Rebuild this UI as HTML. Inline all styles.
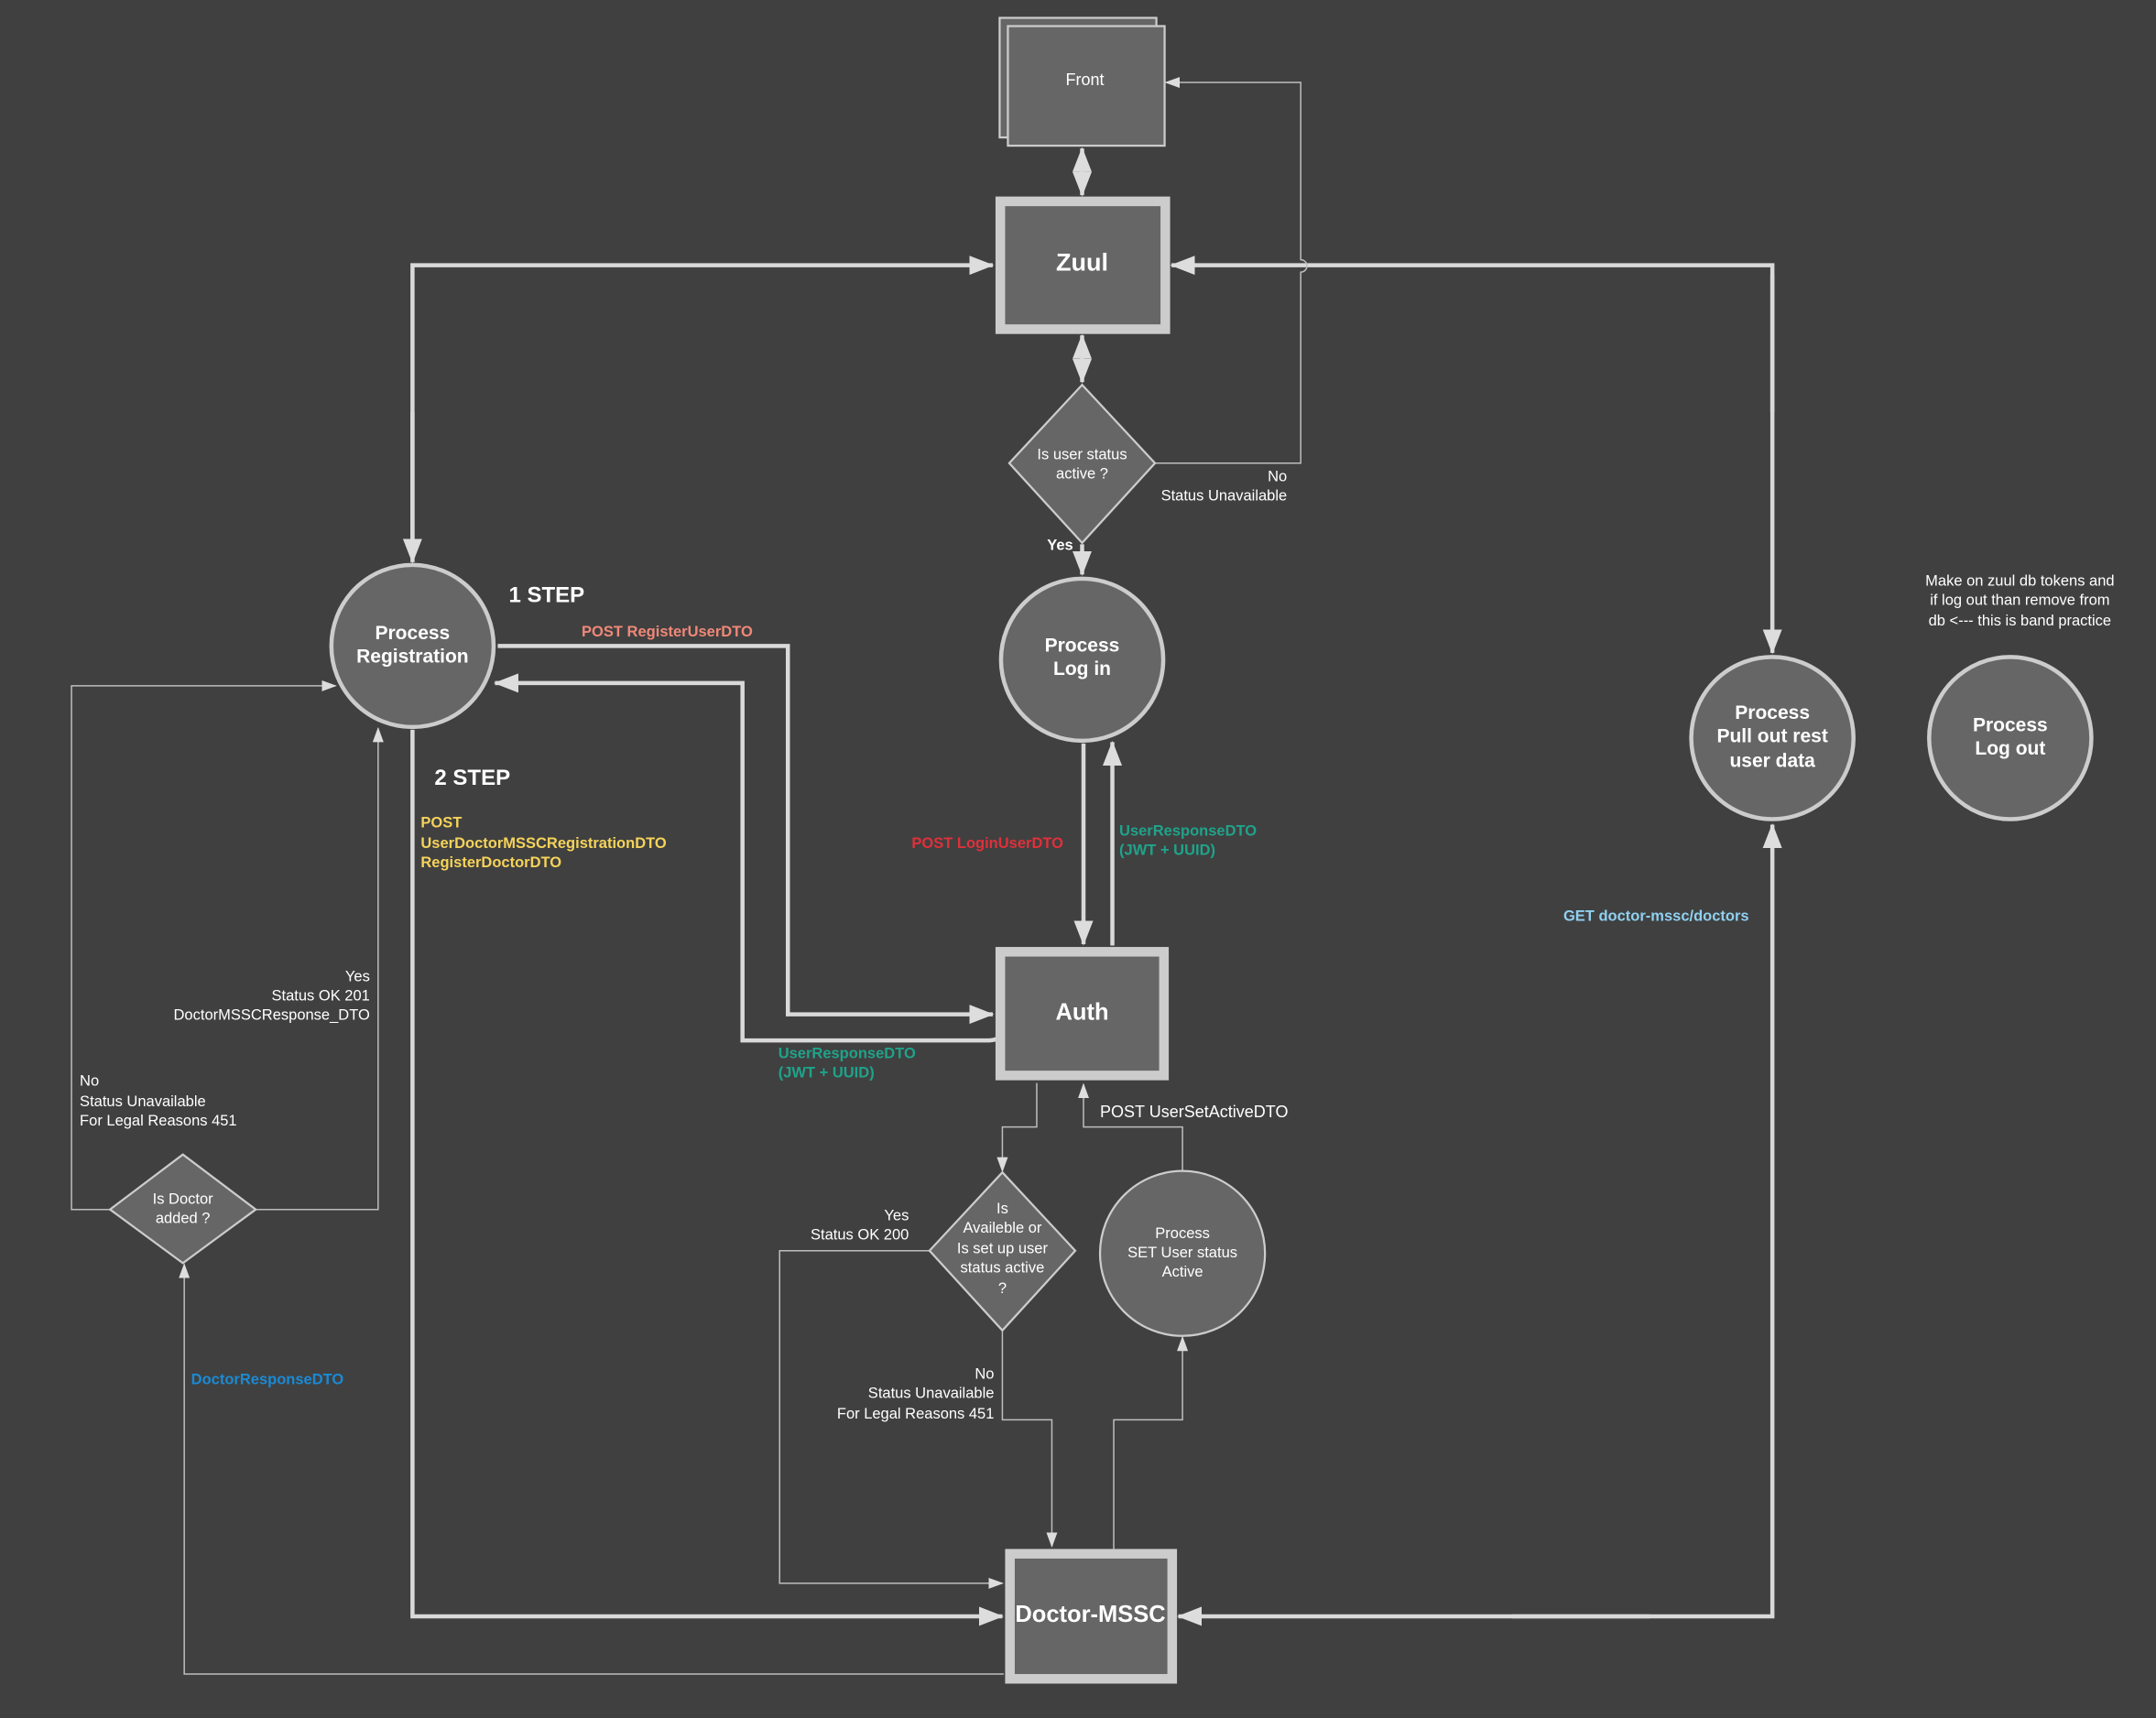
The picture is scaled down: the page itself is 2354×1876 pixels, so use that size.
<!DOCTYPE html>
<html><head><meta charset="utf-8"><style>
html,body{margin:0;padding:0;background:#404040;}
svg{display:block;}
text{font-family:"Liberation Sans",sans-serif;fill:#fff;}
</style></head><body>
<svg width="2354" height="1876" viewBox="0 0 1568 1250" preserveAspectRatio="none" xmlns="http://www.w3.org/2000/svg">
<defs>
<marker id="T" markerUnits="userSpaceOnUse" markerWidth="18" markerHeight="14" refX="17" refY="7" orient="auto"><path d="M0,0 L18,7 L0,14 Z" fill="#ddd"/></marker>
<marker id="t" markerUnits="userSpaceOnUse" markerWidth="11" markerHeight="8" refX="10" refY="4" orient="auto"><path d="M0,0 L11,4 L0,8 Z" fill="#ddd"/></marker>
</defs>
<rect width="1568" height="1250" fill="#404040"/>

<g fill="none" stroke="#d9d9d9" stroke-width="3">
<!-- Front-Zuul -->
<path d="M787,126 L787,108" marker-end="url(#T)"/>
<path d="M787,124 L787,142" marker-end="url(#T)"/>
<!-- Zuul-diamond -->
<path d="M787,262 L787,244" marker-end="url(#T)"/>
<path d="M787,260 L787,278" marker-end="url(#T)"/>
<!-- Yes -->
<path d="M787,396 L787,418" marker-end="url(#T)"/>
<!-- registration <-> zuul -->
<path d="M300,400 L300,193 L722,193" marker-end="url(#T)"/>
<path d="M300,300 L300,409" marker-end="url(#T)"/>
<!-- zuul right to pull out -->
<path d="M1289,300 L1289,193 L852,193" marker-end="url(#T)"/>
<path d="M1289,200 L1289,475" marker-end="url(#T)"/>
<!-- register to auth -->
<path d="M362,470 L573,470 L573,738 L722,738" marker-end="url(#T)"/>
<!-- auth to register -->
<path d="M726,755 Q724,757 718,757 L540,757 L540,497 L360,497" marker-end="url(#T)"/>
<!-- login -->
<path d="M788,541 L788,687" marker-end="url(#T)"/>
<path d="M809,688 L809,540" marker-end="url(#T)"/>
<!-- registration to doctor -->
<path d="M300,531 L300,1176 L729,1176" marker-end="url(#T)"/>
<!-- doctor to pull out -->
<path d="M1100,1176 L1289,1176 L1289,600" marker-end="url(#T)"/>
<path d="M1200,1176 L857,1176" marker-end="url(#T)"/>
</g>

<g fill="none" stroke="#bdbdbd" stroke-width="1">
<path d="M840,337 L946,337 L946,198 A4,4 0 0 0 946,189 L946,60 L848,60" marker-end="url(#t)"/>
<path d="M754,788 L754,820 L729,820 L729,852" marker-end="url(#t)"/>
<path d="M676,910 L567,910 L567,1152 L729,1152" marker-end="url(#t)"/>
<path d="M729,968 L729,1033 L765,1033 L765,1125" marker-end="url(#t)"/>
<path d="M810,1127 L810,1033 L860,1033 L860,973" marker-end="url(#t)"/>
<path d="M860,852 L860,820 L788,820 L788,789" marker-end="url(#t)"/>
<path d="M730,1218 L134,1218 L134,920" marker-end="url(#t)"/>
<path d="M186,880 L275,880 L275,530" marker-end="url(#t)"/>
<path d="M80,880 L52,880 L52,499 L244,499" marker-end="url(#t)"/>
</g>

<!-- Front -->
<rect x="727" y="13" width="114" height="87" fill="#666" stroke="#ccc" stroke-width="1.5"/>
<rect x="733" y="19" width="114" height="87" fill="#666" stroke="#ccc" stroke-width="1.5"/>
<text x="789" y="62" font-size="12" text-anchor="middle">Front</text>

<!-- Zuul -->
<rect x="727.5" y="146.5" width="120" height="93" fill="#666" stroke="#ccc" stroke-width="7"/>
<text x="787" y="197" font-size="18" font-weight="bold" text-anchor="middle">Zuul</text>

<!-- diamond 1 -->
<path d="M787,280 L840,337 L787,395 L734,337 Z" fill="#666" stroke="#ccc" stroke-width="1.5"/>
<text x="787" y="334" font-size="11" text-anchor="middle">Is user status</text>
<text x="787" y="348" font-size="11" text-anchor="middle">active ?</text>
<text x="936" y="350" font-size="11" text-anchor="end">No</text>
<text x="936" y="364" font-size="11" text-anchor="end">Status Unavailable</text>
<text x="771" y="400" font-size="11" font-weight="bold" text-anchor="middle">Yes</text>

<!-- circles -->
<g fill="#666" stroke="#ccc" stroke-width="3">
<circle cx="300" cy="470" r="59"/>
<circle cx="787" cy="480" r="59"/>
<circle cx="1289" cy="537" r="59"/>
<circle cx="1462" cy="537" r="59"/>
</g>
<circle cx="860" cy="912" r="60" fill="#666" stroke="#ccc" stroke-width="1.5"/>
<g font-size="14" font-weight="bold" text-anchor="middle">
<text x="300" y="465">Process</text><text x="300" y="482">Registration</text>
<text x="787" y="474">Process</text><text x="787" y="491">Log in</text>
<text x="1289" y="523">Process</text><text x="1289" y="540">Pull out rest</text><text x="1289" y="558">user data</text>
<text x="1462" y="532">Process</text><text x="1462" y="549">Log out</text>
</g>
<g font-size="11" text-anchor="middle">
<text x="860" y="901">Process</text><text x="860" y="915">SET User status</text><text x="860" y="929">Active</text>
<text x="1469" y="426">Make on zuul db tokens and</text>
<text x="1469" y="440">if log out than remove from</text>
<text x="1469" y="455">db &lt;--- this is band practice</text>
</g>

<text x="370" y="438" font-size="16" font-weight="bold">1 STEP</text>
<text x="316" y="571" font-size="16" font-weight="bold">2 STEP</text>
<g font-size="11" font-weight="bold">
<text x="423" y="463" style="fill:#f08878">POST RegisterUserDTO</text>
<text x="566" y="770" style="fill:#1fa38a">UserResponseDTO</text>
<text x="566" y="784" style="fill:#1fa38a">(JWT + UUID)</text>
<text x="814" y="608" style="fill:#1fa38a">UserResponseDTO</text>
<text x="814" y="622" style="fill:#1fa38a">(JWT + UUID)</text>
<text x="663" y="617" style="fill:#e0303a">POST LoginUserDTO</text>
<text x="306" y="602" style="fill:#f5d35a">POST</text>
<text x="306" y="617" style="fill:#f5d35a">UserDoctorMSSCRegistrationDTO</text>
<text x="306" y="631" style="fill:#f5d35a">RegisterDoctorDTO</text>
<text x="1137" y="670" style="fill:#8fd0f0">GET doctor-mssc/doctors</text>
<text x="139" y="1007" style="fill:#1a8ad4">DoctorResponseDTO</text>
</g>

<!-- Auth -->
<rect x="727.5" y="692.5" width="119" height="90" fill="#666" stroke="#ccc" stroke-width="7"/>
<text x="787" y="742" font-size="17" font-weight="bold" text-anchor="middle">Auth</text>
<text x="800" y="813" font-size="12">POST UserSetActiveDTO</text>

<!-- diamond 2 -->
<path d="M729,853 L782,910 L729,968 L676,910 Z" fill="#666" stroke="#ccc" stroke-width="1.5"/>
<g font-size="11" text-anchor="middle">
<text x="729" y="883">Is</text><text x="729" y="897">Availeble or</text><text x="729" y="912">Is set up user</text><text x="729" y="926">status active</text><text x="729" y="941">?</text>
</g>
<g font-size="11" text-anchor="end">
<text x="661" y="888">Yes</text><text x="661" y="902">Status OK 200</text>
<text x="723" y="1003">No</text><text x="723" y="1017">Status Unavailable</text><text x="723" y="1032">For Legal Reasons 451</text>
<text x="269" y="714">Yes</text><text x="269" y="728">Status OK 201</text><text x="269" y="742">DoctorMSSCResponse_DTO</text>
</g>
<g font-size="11">
<text x="58" y="790">No</text><text x="58" y="805">Status Unavailable</text><text x="58" y="819">For Legal Reasons 451</text>
</g>

<!-- Doctor-MSSC -->
<rect x="734.5" y="1130.5" width="118" height="91" fill="#666" stroke="#ccc" stroke-width="7"/>
<text x="793" y="1180" font-size="17" font-weight="bold" text-anchor="middle">Doctor-MSSC</text>

<!-- diamond 3 -->
<path d="M133,840 L186,880 L133,919 L80,880 Z" fill="#666" stroke="#ccc" stroke-width="1.5"/>
<text x="133" y="876" font-size="11" text-anchor="middle">Is Doctor</text>
<text x="133" y="890" font-size="11" text-anchor="middle">added ?</text>
</svg>
</body></html>
